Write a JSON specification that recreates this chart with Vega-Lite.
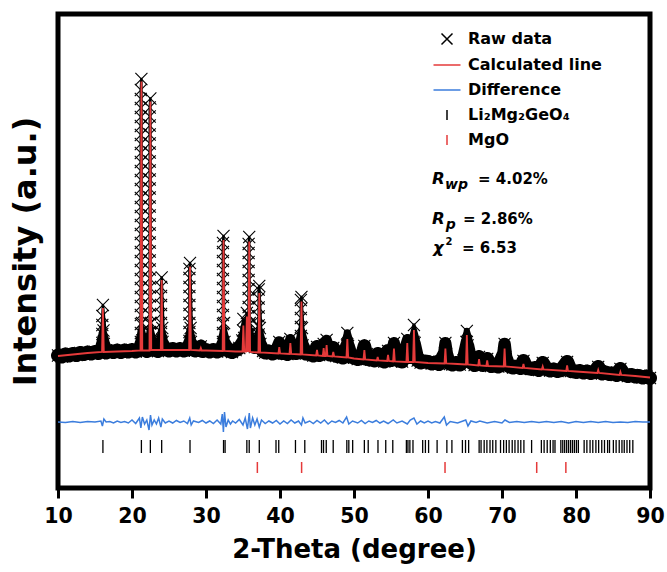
{
  "$schema": "https://vega.github.io/schema/vega-lite/v6.json",
  "width": 592,
  "height": 474,
  "autosize": {"type": "none"},
  "padding": {"left": 58, "top": 14, "right": 17, "bottom": 84},
  "background": "white",
  "config": {"view": {"stroke": "black", "strokeWidth": 5}, "font": "DejaVu Sans"},
  "datasets": {
    "raw": [
      {"x":10,"y":265},{"x":10.5,"y":263},{"x":11,"y":267},{"x":11.5,"y":265},{"x":12,"y":268},{"x":12.5,"y":266},{"x":13,"y":270},{"x":13.5,"y":268},{"x":14,"y":271},{"x":14.5,"y":269},{"x":15,"y":272},{"x":15.5,"y":270},{"x":15.8,"y":273},
      {"x":15.99,"y":290},{"x":15.99,"y":308},{"x":15.99,"y":326},{"x":15.99,"y":344},{"x":16.07,"y":366},{"x":16.15,"y":315},{"x":16.2,"y":288},
      {"x":16.5,"y":271},{"x":17,"y":274},{"x":17.5,"y":272},{"x":18,"y":275},{"x":18.5,"y":272},{"x":19,"y":275},{"x":19.5,"y":273},{"x":20,"y":276},{"x":20.5,"y":273},{"x":21,"y":276},
      {"x":21.19,"y":292},{"x":21.19,"y":310},{"x":21.19,"y":328},{"x":21.19,"y":346},{"x":21.19,"y":364},{"x":21.19,"y":382},{"x":21.19,"y":400},{"x":21.19,"y":418},{"x":21.19,"y":436},{"x":21.19,"y":454},{"x":21.19,"y":472},{"x":21.19,"y":490},{"x":21.19,"y":508},{"x":21.19,"y":526},{"x":21.19,"y":544},{"x":21.19,"y":562},{"x":21.19,"y":580},{"x":21.19,"y":598},{"x":21.19,"y":616},{"x":21.19,"y":634},{"x":21.19,"y":652},{"x":21.19,"y":670},{"x":21.19,"y":688},{"x":21.19,"y":706},{"x":21.19,"y":724},{"x":21.19,"y":742},{"x":21.19,"y":760},{"x":21.19,"y":778},{"x":21.19,"y":796},
      {"x":21.27,"y":818},{"x":21.35,"y":330},{"x":21.4,"y":295},
      {"x":21.7,"y":277},{"x":22,"y":274},
      {"x":22.4,"y":293},{"x":22.4,"y":311},{"x":22.4,"y":329},{"x":22.4,"y":347},{"x":22.4,"y":365},{"x":22.4,"y":383},{"x":22.4,"y":401},{"x":22.4,"y":419},{"x":22.4,"y":437},{"x":22.4,"y":455},{"x":22.4,"y":473},{"x":22.4,"y":491},{"x":22.4,"y":509},{"x":22.4,"y":527},{"x":22.4,"y":545},{"x":22.4,"y":563},{"x":22.4,"y":581},{"x":22.4,"y":599},{"x":22.4,"y":617},{"x":22.4,"y":635},{"x":22.4,"y":653},{"x":22.4,"y":671},{"x":22.4,"y":689},{"x":22.4,"y":707},{"x":22.4,"y":725},{"x":22.4,"y":743},{"x":22.4,"y":761},
      {"x":22.48,"y":779},{"x":22.56,"y":330},{"x":22.6,"y":296},
      {"x":23,"y":277},{"x":23.5,"y":274},
      {"x":23.93,"y":294},{"x":23.93,"y":312},{"x":23.93,"y":330},{"x":23.93,"y":348},{"x":23.93,"y":366},{"x":23.93,"y":384},{"x":23.93,"y":402},
      {"x":24.01,"y":421},{"x":24.09,"y":320},{"x":24.13,"y":292},
      {"x":24.5,"y":278},{"x":25,"y":275},{"x":25.5,"y":278},{"x":26,"y":275},{"x":26.5,"y":278},{"x":27,"y":275},{"x":27.5,"y":277},
      {"x":27.76,"y":294},{"x":27.76,"y":312},{"x":27.76,"y":330},{"x":27.76,"y":348},{"x":27.76,"y":366},{"x":27.76,"y":384},{"x":27.76,"y":402},{"x":27.76,"y":420},{"x":27.76,"y":438},
      {"x":27.84,"y":450},{"x":27.92,"y":320},{"x":27.96,"y":292},
      {"x":28.5,"y":275},{"x":29,"y":277},{"x":29.3,"y":283},{"x":29.5,"y":274},{"x":30,"y":276},{"x":30.5,"y":273},{"x":31,"y":276},{"x":31.5,"y":273},{"x":32,"y":276},
      {"x":32.29,"y":292},{"x":32.29,"y":310},{"x":32.29,"y":328},{"x":32.29,"y":346},{"x":32.29,"y":364},{"x":32.29,"y":382},{"x":32.29,"y":400},{"x":32.29,"y":418},{"x":32.29,"y":436},{"x":32.29,"y":454},{"x":32.29,"y":472},{"x":32.29,"y":490},
      {"x":32.37,"y":504},{"x":32.45,"y":330},{"x":32.5,"y":292},
      {"x":33,"y":275},{"x":33.5,"y":272},{"x":34,"y":276},{"x":34.5,"y":280},{"x":34.9,"y":295},{"x":35,"y":315},{"x":35.05,"y":338},{"x":35.15,"y":300},{"x":35.3,"y":290},{"x":35.45,"y":312},{"x":35.52,"y":350},{"x":35.6,"y":305},
      {"x":35.76,"y":290},{"x":35.76,"y":308},{"x":35.76,"y":326},{"x":35.76,"y":344},{"x":35.76,"y":362},{"x":35.76,"y":380},{"x":35.76,"y":398},{"x":35.76,"y":416},{"x":35.76,"y":434},{"x":35.76,"y":452},{"x":35.76,"y":470},{"x":35.76,"y":488},
      {"x":35.84,"y":502},{"x":35.92,"y":330},{"x":36,"y":300},{"x":36.3,"y":290},{"x":36.6,"y":282},
      {"x":37.12,"y":289},{"x":37.12,"y":307},{"x":37.12,"y":325},{"x":37.12,"y":343},{"x":37.12,"y":361},{"x":37.12,"y":379},{"x":37.12,"y":397},
      {"x":37.2,"y":404},{"x":37.28,"y":320},{"x":37.35,"y":288},
      {"x":37.7,"y":274},{"x":38,"y":271},{"x":38.5,"y":273},{"x":39,"y":269},{"x":39.5,"y":272},{"x":39.9,"y":292},{"x":40.2,"y":270},{"x":40.5,"y":271},{"x":41,"y":268},{"x":41.4,"y":298},{"x":41.7,"y":271},{"x":42.2,"y":270},
      {"x":42.82,"y":286},{"x":42.82,"y":304},{"x":42.82,"y":322},{"x":42.82,"y":340},{"x":42.82,"y":358},{"x":42.82,"y":376},
      {"x":42.9,"y":382},{"x":42.98,"y":320},{"x":43.05,"y":285},
      {"x":43.5,"y":269},{"x":44,"y":268},{"x":44.5,"y":265},{"x":45,"y":282},{"x":45.3,"y":266},{"x":45.9,"y":288},{"x":46.3,"y":296},{"x":46.7,"y":267},{"x":47.2,"y":280},{"x":47.6,"y":264},{"x":48,"y":264},{"x":48.5,"y":261},
      {"x":49.05,"y":285},{"x":49.1,"y":310},{"x":49.2,"y":284},{"x":49.6,"y":263},{"x":50,"y":261},{"x":50.5,"y":258},{"x":51,"y":260},{"x":51.4,"y":284},{"x":51.8,"y":258},{"x":52.3,"y":257},{"x":52.8,"y":255},{"x":53.2,"y":268},{"x":53.6,"y":256},{"x":54.1,"y":253},{"x":54.6,"y":274},{"x":55,"y":256},
      {"x":55.35,"y":276},{"x":55.4,"y":290},{"x":55.5,"y":272},{"x":56,"y":255},{"x":56.5,"y":253},{"x":57.2,"y":298},{"x":57.6,"y":262},
      {"x":58.05,"y":292},{"x":58.1,"y":326},{"x":58.2,"y":290},{"x":58.6,"y":255},{"x":59,"y":251},{"x":59.5,"y":253},{"x":60,"y":252},{"x":60.5,"y":249},{"x":61,"y":251},{"x":61.5,"y":248},
      {"x":62.3,"y":270},{"x":62.35,"y":290},{"x":62.45,"y":268},{"x":62.8,"y":250},{"x":63.3,"y":247},{"x":63.8,"y":250},{"x":64.3,"y":247},{"x":64.8,"y":255},
      {"x":65.2,"y":292},{"x":65.25,"y":314},{"x":65.35,"y":285},{"x":65.8,"y":251},{"x":66.3,"y":246},{"x":66.9,"y":262},{"x":67.4,"y":246},{"x":68,"y":258},{"x":68.5,"y":244},{"x":69,"y":245},{"x":69.5,"y":243},
      {"x":70.3,"y":270},{"x":70.35,"y":288},{"x":70.45,"y":262},{"x":70.9,"y":244},{"x":71.5,"y":241},{"x":72,"y":243},{"x":72.5,"y":240},{"x":72.9,"y":254},{"x":73.3,"y":240},{"x":74,"y":238},{"x":74.5,"y":240},{"x":75,"y":236},{"x":75.5,"y":250},{"x":76,"y":238},{"x":76.5,"y":235},{"x":77,"y":237},{"x":77.5,"y":234},{"x":78,"y":236},{"x":78.8,"y":252},{"x":79.3,"y":234},
      {"x":80,"y":232},{"x":80.5,"y":234},{"x":81,"y":231},{"x":81.5,"y":233},{"x":82,"y":230},{"x":82.5,"y":232},{"x":83,"y":242},{"x":83.5,"y":229},{"x":84,"y":231},{"x":84.5,"y":228},{"x":85,"y":229},{"x":85.5,"y":226},{"x":86,"y":238},{"x":86.5,"y":227},{"x":87,"y":224},{"x":87.5,"y":226},{"x":88,"y":223},{"x":88.5,"y":224},{"x":89,"y":221},{"x":89.5,"y":223},{"x":90,"y":220}
    ],
    "calc": [
      {"x":10,"y":264},{"x":12,"y":267},{"x":14,"y":270},
      {"x":15.95,"y":272},{"x":16.07,"y":360},{"x":16.19,"y":272},
      {"x":18,"y":273},{"x":20,"y":274},
      {"x":21.15,"y":275},{"x":21.27,"y":813},{"x":21.39,"y":275},
      {"x":22.36,"y":275},{"x":22.48,"y":773},{"x":22.6,"y":276},
      {"x":23.89,"y":276},{"x":24.01,"y":416},{"x":24.13,"y":276},
      {"x":26,"y":276},
      {"x":27.72,"y":276},{"x":27.84,"y":443},{"x":27.96,"y":276},
      {"x":29.18,"y":275},{"x":29.3,"y":280},{"x":29.42,"y":275},
      {"x":30,"y":275},
      {"x":32.25,"y":274},{"x":32.37,"y":496},{"x":32.49,"y":274},
      {"x":34,"y":273},
      {"x":34.93,"y":273},{"x":35.05,"y":325},{"x":35.17,"y":273},
      {"x":35.4,"y":273},{"x":35.52,"y":343},{"x":35.62,"y":274},
      {"x":35.74,"y":274},{"x":35.84,"y":493},{"x":35.96,"y":272},
      {"x":37.08,"y":271},{"x":37.2,"y":390},{"x":37.32,"y":271},
      {"x":39.78,"y":269},{"x":39.9,"y":282},{"x":40.02,"y":269},
      {"x":41.28,"y":268},{"x":41.4,"y":290},{"x":41.52,"y":268},
      {"x":42.78,"y":267},{"x":42.9,"y":373},{"x":43.02,"y":267},
      {"x":44.88,"y":265},{"x":45,"y":276},{"x":45.12,"y":265},
      {"x":45.78,"y":264},{"x":45.9,"y":280},{"x":46.02,"y":264},
      {"x":46.18,"y":264},{"x":46.3,"y":286},{"x":46.42,"y":264},
      {"x":47.08,"y":263},{"x":47.2,"y":272},{"x":47.32,"y":263},
      {"x":48.98,"y":261},{"x":49.1,"y":298},{"x":49.22,"y":261},
      {"x":50,"y":259},
      {"x":51.28,"y":257},{"x":51.4,"y":276},{"x":51.52,"y":257},
      {"x":53.08,"y":255},{"x":53.2,"y":262},{"x":53.32,"y":255},
      {"x":54.48,"y":254},{"x":54.6,"y":266},{"x":54.72,"y":254},
      {"x":55.28,"y":253},{"x":55.4,"y":279},{"x":55.52,"y":253},
      {"x":57.08,"y":252},{"x":57.2,"y":290},{"x":57.32,"y":252},
      {"x":57.98,"y":252},{"x":58.1,"y":316},{"x":58.22,"y":252},
      {"x":60,"y":250},
      {"x":62.23,"y":249},{"x":62.35,"y":279},{"x":62.47,"y":249},
      {"x":64,"y":248},
      {"x":65.13,"y":247},{"x":65.25,"y":306},{"x":65.37,"y":247},
      {"x":66.78,"y":245},{"x":66.9,"y":258},{"x":67.02,"y":245},
      {"x":67.88,"y":244},{"x":68,"y":255},{"x":68.12,"y":244},
      {"x":70.23,"y":243},{"x":70.35,"y":279},{"x":70.47,"y":243},
      {"x":72.78,"y":240},{"x":72.9,"y":248},{"x":73.02,"y":240},
      {"x":75.38,"y":237},{"x":75.5,"y":243},{"x":75.62,"y":237},
      {"x":78.68,"y":234},{"x":78.8,"y":245},{"x":78.92,"y":234},
      {"x":80,"y":233},
      {"x":82.88,"y":230},{"x":83,"y":236},{"x":83.12,"y":230},
      {"x":85.88,"y":226},{"x":86,"y":232},{"x":86.12,"y":226},
      {"x":88,"y":224},{"x":90,"y":221}
    ],
    "diff": [
      {"x":10,"y":132},{"x":11,"y":131},{"x":12,"y":133},{"x":13,"y":131},{"x":14,"y":133},{"x":15,"y":132},{"x":15.8,"y":134},{"x":16,"y":124},{"x":16.2,"y":138},{"x":16.5,"y":132},{"x":17,"y":133},{"x":17.5,"y":130},{"x":18,"y":134},{"x":18.5,"y":131},{"x":19,"y":133},{"x":19.5,"y":130},{"x":20,"y":136},{"x":20.5,"y":129},
      {"x":21,"y":140},{"x":21.2,"y":120},{"x":21.4,"y":142},{"x":21.7,"y":128},{"x":22,"y":136},{"x":22.3,"y":116},{"x":22.5,"y":146},{"x":22.7,"y":126},{"x":23,"y":136},{"x":23.3,"y":128},{"x":23.6,"y":140},{"x":23.9,"y":122},{"x":24.1,"y":138},{"x":24.5,"y":130},{"x":25,"y":134},{"x":25.5,"y":130},{"x":26,"y":135},{"x":26.5,"y":131},{"x":27,"y":134},{"x":27.5,"y":129},{"x":27.8,"y":140},{"x":28,"y":126},{"x":28.3,"y":134},{"x":29,"y":131},{"x":29.5,"y":135},{"x":30,"y":130},{"x":30.5,"y":134},{"x":31,"y":129},{"x":31.5,"y":136},
      {"x":32,"y":128},{"x":32.2,"y":148},{"x":32.35,"y":112},{"x":32.5,"y":152},{"x":32.7,"y":122},{"x":33,"y":136},{"x":33.3,"y":128},{"x":33.6,"y":134},{"x":34,"y":130},{"x":34.5,"y":137},{"x":35,"y":126},{"x":35.3,"y":140},{"x":35.6,"y":118},{"x":35.85,"y":150},{"x":36,"y":120},{"x":36.3,"y":140},{"x":36.6,"y":126},{"x":36.9,"y":138},{"x":37.2,"y":122},{"x":37.5,"y":136},{"x":38,"y":129},{"x":38.5,"y":134},{"x":39,"y":130},{"x":39.5,"y":135},{"x":40,"y":128},{"x":40.5,"y":134},{"x":41,"y":129},{"x":41.5,"y":136},{"x":42,"y":130},{"x":42.5,"y":134},{"x":42.9,"y":126},{"x":43.1,"y":140},{"x":43.4,"y":130},
      {"x":44,"y":134},{"x":44.5,"y":129},{"x":45,"y":135},{"x":45.5,"y":130},{"x":46,"y":136},{"x":46.5,"y":128},{"x":47,"y":134},{"x":47.5,"y":131},{"x":48,"y":135},{"x":48.5,"y":130},{"x":49,"y":142},{"x":49.3,"y":128},{"x":49.8,"y":134},{"x":50.5,"y":130},{"x":51,"y":135},{"x":51.5,"y":129},{"x":52,"y":134},{"x":52.5,"y":131},{"x":53,"y":135},{"x":53.5,"y":130},{"x":54,"y":134},{"x":54.6,"y":129},{"x":55.3,"y":136},{"x":55.8,"y":130},{"x":56.5,"y":134},{"x":57.2,"y":128},{"x":57.6,"y":136},{"x":58.1,"y":140},{"x":58.5,"y":128},{"x":59,"y":134},{"x":59.5,"y":130},{"x":60,"y":134},{"x":60.5,"y":130},{"x":61,"y":133},{"x":61.6,"y":130},{"x":62.2,"y":142},{"x":62.5,"y":126},{"x":63,"y":133},{"x":64,"y":130},{"x":65.1,"y":136},{"x":65.4,"y":124},{"x":65.8,"y":134},{"x":66.5,"y":131},{"x":67,"y":134},{"x":68,"y":130},{"x":69,"y":133},{"x":70,"y":130},{"x":70.4,"y":136},{"x":71,"y":131},{"x":72,"y":133},{"x":73,"y":131},{"x":74,"y":133},{"x":75,"y":131},{"x":76,"y":133},{"x":77,"y":131},{"x":78,"y":133},{"x":79,"y":130},{"x":80,"y":133},{"x":81,"y":131},{"x":82,"y":133},{"x":83,"y":131},{"x":84,"y":133},{"x":85,"y":131},{"x":86,"y":132},{"x":87,"y":131},{"x":88,"y":133},{"x":89,"y":132},{"x":90,"y":132}
    ],
    "li": [
      {"x":16.07},{"x":21.27},{"x":22.48},{"x":24.01},{"x":27.84},{"x":32.37},{"x":32.58},{"x":35.52},{"x":35.84},{"x":37.2},{"x":39.46},{"x":39.83},{"x":42.09},{"x":43.35},{"x":45.61},{"x":45.88},{"x":46.25},{"x":47.19},{"x":49.03},{"x":49.3},{"x":49.82},{"x":51.4},{"x":51.92},{"x":53.24},{"x":54.29},{"x":55.24},{"x":57.08},{"x":57.29},{"x":57.55},{"x":57.97},{"x":59.28},{"x":59.65},{"x":60.08},{"x":61.23},{"x":62.55},{"x":63.23},{"x":64.65},{"x":65.07},{"x":65.49},{"x":66.91},{"x":67.17},{"x":67.59},{"x":67.96},{"x":68.38},{"x":68.75},{"x":69.17},{"x":69.8},{"x":70.22},{"x":70.59},{"x":70.96},{"x":71.38},{"x":71.75},{"x":72.17},{"x":72.54},{"x":72.96},{"x":74.0},{"x":75.32},{"x":75.69},{"x":76.11},{"x":76.53},{"x":76.9},{"x":77.16},{"x":77.95},{"x":78.21},{"x":78.47},{"x":78.74},{"x":79.0},{"x":79.27},{"x":79.53},{"x":79.79},{"x":80.06},{"x":80.32},{"x":81.1},{"x":81.47},{"x":81.9},{"x":82.27},{"x":82.69},{"x":83.06},{"x":83.48},{"x":83.85},{"x":84.27},{"x":84.53},{"x":85.05},{"x":85.42},{"x":85.84},{"x":86.21},{"x":86.52},{"x":86.89},{"x":87.26},{"x":87.68}
    ],
    "mgo": [
      {"x":36.94},{"x":42.92},{"x":62.3},{"x":74.69},{"x":78.63}
    ]
  },
  "layer": [
    {
      "data": {"name": "raw"},
      "mark": {"type": "trail", "color": "black"},
      "encoding": {
        "x": {
          "field": "x", "type": "quantitative",
          "scale": {"domain": [10, 90], "nice": false, "zero": false},
          "axis": {
            "values": [10,15,20,25,30,35,40,45,50,55,60,65,70,75,80,85,90],
            "labelExpr": "datum.value % 10 === 0 ? datum.label : ''",
            "tickSize": {"condition": {"test": "datum.value % 10 !== 0", "value": 5}, "value": 10},
            "tickWidth": 3, "tickColor": "black", "domain": false, "grid": false,
            "labelFont": "DejaVu Sans", "labelFontWeight": "bold", "labelFontSize": 20.5, "labelColor": "black",
            "labelPadding": 8, "labelFlush": false, "labelOverlap": false,
            "title": "2-Theta (degree)", "titleFont": "DejaVu Sans", "titleFontWeight": "bold", "titleFontSize": 26, "titleColor": "black", "titlePadding": 10
          }
        },
        "y": {
          "field": "y", "type": "quantitative",
          "scale": {"domain": [0, 948], "nice": false, "zero": false},
          "axis": {
            "ticks": false, "labels": false, "domain": false, "grid": false,
            "title": "Intensity (a.u.)", "titleFont": "DejaVu Sans", "titleFontWeight": "bold", "titleFontSize": 32, "titleColor": "black", "titlePadding": 16
          }
        },
        "size": {"field": "y", "type": "quantitative", "scale": {"domain": [282, 330], "range": [14, 2.5], "clamp": true}, "legend": null}
      }
    },
    {
      "data": {"name": "raw"},
      "mark": {"type": "point", "size": 480, "filled": false, "strokeWidth": 1.1, "opacity": 1},
      "encoding": {
        "x": {"field": "x", "type": "quantitative", "scale": {"domain": [10, 90], "nice": false, "zero": false}},
        "y": {"field": "y", "type": "quantitative", "scale": {"domain": [0, 948], "nice": false, "zero": false}},
        "color": {
          "datum": "Raw data", "type": "nominal",
          "scale": {"domain": ["Raw data", "Calculated line", "Difference", "Li₂Mg₂GeO₄", "MgO"], "range": ["black", "#e53a3a", "#3b7ddd", "black", "#e53a3a"]},
          "legend": {
            "title": null, "orient": "none", "legendX": 378, "legendY": 14, "padding": 0,
            "labelFont": "DejaVu Sans", "labelFontWeight": "bold", "labelFontSize": 16, "labelColor": "black",
            "labelOffset": 10, "rowPadding": 6, "symbolSize": 400, "symbolStrokeWidth": 1.5, "symbolOpacity": 1
          }
        },
        "shape": {
          "datum": "Raw data", "type": "nominal",
          "scale": {"domain": ["Raw data", "Calculated line", "Difference", "Li₂Mg₂GeO₄", "MgO"], "range": ["M-0.55,-0.55L0.55,0.55M-0.55,0.55L0.55,-0.55", "M-1.35,0L1.35,0", "M-1.35,0L1.35,0", "M0,-0.5L0,0.5", "M0,-0.5L0,0.5"]},
          "legend": {
            "title": null, "orient": "none", "legendX": 378, "legendY": 14, "padding": 0,
            "labelFont": "DejaVu Sans", "labelFontWeight": "bold", "labelFontSize": 16, "labelColor": "black",
            "labelOffset": 10, "rowPadding": 6, "symbolSize": 400, "symbolStrokeWidth": 1.5, "symbolOpacity": 1
          }
        }
      }
    },
    {
      "data": {"name": "calc"},
      "mark": {"type": "line", "strokeWidth": 1.8},
      "encoding": {
        "x": {"field": "x", "type": "quantitative", "scale": {"domain": [10, 90], "nice": false, "zero": false}},
        "y": {"field": "y", "type": "quantitative", "scale": {"domain": [0, 948], "nice": false, "zero": false}},
        "color": {"datum": "Calculated line", "type": "nominal"}
      }
    },
    {
      "data": {"name": "diff"},
      "mark": {"type": "line", "strokeWidth": 1.5},
      "encoding": {
        "x": {"field": "x", "type": "quantitative", "scale": {"domain": [10, 90], "nice": false, "zero": false}},
        "y": {"field": "y", "type": "quantitative", "scale": {"domain": [0, 948], "nice": false, "zero": false}},
        "color": {"datum": "Difference", "type": "nominal"}
      }
    },
    {
      "data": {"name": "li"},
      "mark": {"type": "rule", "strokeWidth": 1.3},
      "encoding": {
        "x": {"field": "x", "type": "quantitative", "scale": {"domain": [10, 90], "nice": false, "zero": false}},
        "y": {"datum": 96}, "y2": {"datum": 70},
        "color": {"datum": "Li₂Mg₂GeO₄", "type": "nominal"}
      }
    },
    {
      "data": {"name": "mgo"},
      "mark": {"type": "rule", "strokeWidth": 1.5},
      "encoding": {
        "x": {"field": "x", "type": "quantitative", "scale": {"domain": [10, 90], "nice": false, "zero": false}},
        "y": {"datum": 52}, "y2": {"datum": 30},
        "color": {"datum": "MgO", "type": "nominal"}
      }
    },
    {
      "data": {"values": [{}]},
      "mark": {"type": "text", "text": "R", "font": "DejaVu Sans", "fontStyle": "italic", "fontWeight": "bold", "fontSize": 16.5, "align": "left", "baseline": "alphabetic", "color": "black"},
      "encoding": {"x": {"datum": 60.54}, "y": {"datum": 608}}
    },
    {
      "data": {"values": [{}]},
      "mark": {"type": "text", "text": "wp", "font": "DejaVu Sans", "fontStyle": "italic", "fontWeight": "bold", "fontSize": 14, "align": "left", "baseline": "alphabetic", "color": "black"},
      "encoding": {"x": {"datum": 62.3}, "y": {"datum": 598}}
    },
    {
      "data": {"values": [{}]},
      "mark": {"type": "text", "text": "= 4.02%", "font": "DejaVu Sans", "fontWeight": "bold", "fontSize": 15, "align": "left", "baseline": "alphabetic", "color": "black"},
      "encoding": {"x": {"datum": 66.76}, "y": {"datum": 608}}
    },
    {
      "data": {"values": [{}]},
      "mark": {"type": "text", "text": "R", "font": "DejaVu Sans", "fontStyle": "italic", "fontWeight": "bold", "fontSize": 16.5, "align": "left", "baseline": "alphabetic", "color": "black"},
      "encoding": {"x": {"datum": 60.54}, "y": {"datum": 528}}
    },
    {
      "data": {"values": [{}]},
      "mark": {"type": "text", "text": "p", "font": "DejaVu Sans", "fontStyle": "italic", "fontWeight": "bold", "fontSize": 14, "align": "left", "baseline": "alphabetic", "color": "black"},
      "encoding": {"x": {"datum": 62.4}, "y": {"datum": 518}}
    },
    {
      "data": {"values": [{}]},
      "mark": {"type": "text", "text": "= 2.86%", "font": "DejaVu Sans", "fontWeight": "bold", "fontSize": 15, "align": "left", "baseline": "alphabetic", "color": "black"},
      "encoding": {"x": {"datum": 64.73}, "y": {"datum": 528}}
    },
    {
      "data": {"values": [{}]},
      "mark": {"type": "text", "text": "χ", "font": "DejaVu Sans", "fontStyle": "italic", "fontWeight": "bold", "fontSize": 16.5, "align": "left", "baseline": "alphabetic", "color": "black"},
      "encoding": {"x": {"datum": 60.68}, "y": {"datum": 470}}
    },
    {
      "data": {"values": [{}]},
      "mark": {"type": "text", "text": "2", "font": "DejaVu Sans", "fontWeight": "bold", "fontSize": 10, "align": "left", "baseline": "alphabetic", "color": "black"},
      "encoding": {"x": {"datum": 62.35}, "y": {"datum": 486}}
    },
    {
      "data": {"values": [{}]},
      "mark": {"type": "text", "text": "= 6.53", "font": "DejaVu Sans", "fontWeight": "bold", "fontSize": 15, "align": "left", "baseline": "alphabetic", "color": "black"},
      "encoding": {"x": {"datum": 64.6}, "y": {"datum": 470}}
    }
  ]
}
